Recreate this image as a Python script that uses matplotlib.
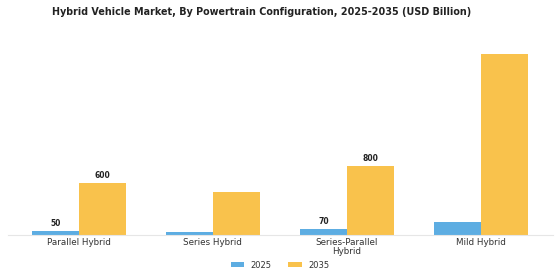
import matplotlib.pyplot as plt
import numpy as np

# Data
categories = ['Parallel Hybrid', 'Series Hybrid', 'Series-Parallel\nHybrid', 'Mild Hybrid']
values_2025 = [50, 35, 70, 150]
values_2035 = [600, 500, 800, 2090]
labels_2025 = ['50', '', '70', '']
labels_2035 = ['600', '', '800', '']

color_2025 = '#5DADE2'
color_2035 = '#F9C24C'

fig = plt.figure(figsize=(5.6, 2.8), dpi=100)
ax = fig.add_axes([8 / 560, 45 / 280, 545 / 560, 200 / 280])

x = np.arange(len(categories))
w = 0.35
b1 = ax.bar(x - w / 2, values_2025, w, color=color_2025, label='2025')
b2 = ax.bar(x + w / 2, values_2035, w, color=color_2035, label='2035')

# Value labels (only some bars are labelled)
for bars, labels in ((b1, labels_2025), (b2, labels_2035)):
    for rect, lab in zip(bars, labels):
        if lab:
            ax.text(rect.get_x() + rect.get_width() / 2, rect.get_height() + 30, lab,
                    ha='center', va='bottom', fontsize=5.5, fontweight='bold', color='#222222')

ax.set_xlim(-0.53, 3.54)
ax.set_ylim(0, 2310)
ax.set_xticks(x)
ax.set_xticklabels(categories, fontsize=6.3, color='#333333', linespacing=1.0)
ax.tick_params(axis='x', length=0, pad=2)
ax.set_yticks([])
for s in ['top', 'right', 'left']:
    ax.spines[s].set_visible(False)
ax.spines['bottom'].set_color('#E6E6E6')
ax.spines['bottom'].set_linewidth(0.8)

fig.suptitle('Hybrid Vehicle Market, By Powertrain Configuration, 2025-2035 (USD Billion)',
             fontsize=6.9, fontweight='bold', color='#222222', x=0.467, y=0.975)

fig.legend(loc='lower center', bbox_to_anchor=(0.5, 0.01), ncol=2, frameon=False,
           fontsize=6, handlelength=1.6, handleheight=0.5, columnspacing=2.0,
           labelcolor='#333333')

fig.savefig('out.png', dpi=100, facecolor='white')
